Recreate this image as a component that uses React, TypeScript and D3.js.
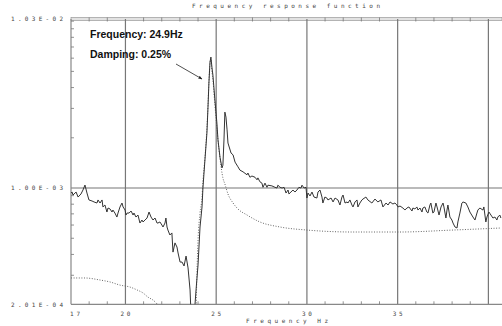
import React from "react";
import * as d3 from "d3";

const W = 502;
const H = 326;

// Measured FRF (solid, noisy)
const solidFreq = [
  17.00,17.06,17.11,17.28,17.39,17.55,17.66,17.77,17.88,17.99,
  18.16,18.27,18.43,18.49,18.60,18.71,18.76,18.87,18.98,19.04,
  19.15,19.26,19.31,19.42,19.53,19.59,19.70,19.81,19.87,19.98,
  20.03,20.09,20.20,20.31,20.42,20.47,20.58,20.69,20.80,20.91,
  20.97,21.08,21.19,21.30,21.41,21.52,21.63,21.74,21.79,21.90,
  22.01,22.07,22.18,22.23,22.29,22.34,22.45,22.56,22.62,22.73,
  22.84,22.90,23.01,23.12,23.23,23.34,23.45,23.56,23.64,23.75,
  23.89,24.00,24.11,24.22,24.27,24.38,24.49,24.55,24.60,24.66,
  24.71,24.77,24.82,24.93,25.04,25.10,25.21,25.32,25.37,25.43,
  25.48,25.54,25.60,25.65,25.82,25.93,26.04,26.20,26.31,26.48,
  26.70,26.75,26.86,26.97,27.14,27.25,27.30,27.41,27.52,27.58,
  27.69,27.80,27.85,28.07,28.24,28.35,28.40,28.52,28.63,28.74,
  28.85,28.96,29.01,29.12,29.23,29.34,29.45,29.56,29.67,29.73,
  29.84,29.95,30.00,30.06,30.17,30.28,30.39,30.55,30.61,30.72,
  30.83,30.88,30.99,31.10,31.16,31.33,31.44,31.55,31.71,31.82,
  31.93,31.99,32.10,32.21,32.26,32.37,32.48,32.54,32.65,32.76,
  32.81,32.92,33.03,33.09,33.25,33.36,33.58,33.75,33.91,34.08,
  34.19,34.36,34.47,34.58,34.74,34.85,34.96,35.02,35.13,35.29,
  35.40,35.51,35.62,35.79,35.84,35.95,36.06,36.12,36.23,36.34,
  36.39,36.50,36.61,36.67,36.78,36.83,36.94,37.00,37.11,37.17,
  37.28,37.39,37.50,37.55,37.61,37.66,37.72,37.77,37.88,37.99,
  38.05,38.16,38.27,38.32,38.43,38.54,38.60,38.76,38.87,38.98,
  39.15,39.26,39.37,39.42,39.53,39.70,39.75,39.86,39.92,40.03,
  40.14,40.25,40.36,40.47,40.52,40.63,40.69,
];
const solidAmp = [
  0.933e-3,0.946e-3,0.908e-3,0.946e-3,0.883e-3,0.921e-3,0.973e-3,1.042e-3,0.933e-3,0.848e-3,
  0.836e-3,0.825e-3,0.813e-3,0.848e-3,0.813e-3,0.848e-3,0.770e-3,0.791e-3,0.718e-3,0.759e-3,
  0.749e-3,0.718e-3,0.738e-3,0.708e-3,0.670e-3,0.708e-3,0.770e-3,0.813e-3,0.770e-3,0.738e-3,
  0.689e-3,0.708e-3,0.708e-3,0.728e-3,0.689e-3,0.708e-3,0.670e-3,0.689e-3,0.617e-3,0.643e-3,
  0.626e-3,0.643e-3,0.661e-3,0.718e-3,0.670e-3,0.643e-3,0.661e-3,0.617e-3,0.617e-3,0.626e-3,
  0.600e-3,0.584e-3,0.617e-3,0.661e-3,0.584e-3,0.560e-3,0.523e-3,0.538e-3,0.413e-3,0.469e-3,
  0.443e-3,0.408e-3,0.360e-3,0.360e-3,0.341e-3,0.391e-3,0.332e-3,0.245e-3,0.150e-3,0.150e-3,
  0.245e-3,0.346e-3,0.584e-3,0.770e-3,1.000e-3,1.47e-3,2.14e-3,3.06e-3,4.26e-3,5.69e-3,
  6.09e-3,5.24e-3,4.75e-3,3.37e-3,2.45e-3,1.94e-3,1.53e-3,1.32e-3,1.37e-3,1.94e-3,
  2.85e-3,2.66e-3,2.23e-3,1.86e-3,1.62e-3,1.58e-3,1.43e-3,1.34e-3,1.28e-3,1.25e-3,
  1.20e-3,1.23e-3,1.16e-3,1.18e-3,1.16e-3,1.12e-3,1.15e-3,1.09e-3,1.07e-3,1.01e-3,
  1.07e-3,1.01e-3,1.04e-3,1.03e-3,1.01e-3,1.00e-3,1.04e-3,1.01e-3,1.00e-3,1.01e-3,
  0.933e-3,0.973e-3,0.921e-3,0.946e-3,0.973e-3,0.946e-3,0.973e-3,1.01e-3,1.00e-3,1.04e-3,
  1.00e-3,1.01e-3,0.871e-3,0.933e-3,0.896e-3,0.946e-3,0.883e-3,0.871e-3,0.946e-3,0.973e-3,
  0.883e-3,0.813e-3,0.883e-3,0.871e-3,0.848e-3,0.871e-3,0.825e-3,0.871e-3,0.848e-3,0.791e-3,
  0.883e-3,0.908e-3,0.813e-3,0.825e-3,0.813e-3,0.848e-3,0.791e-3,0.770e-3,0.825e-3,0.848e-3,
  0.770e-3,0.813e-3,0.848e-3,0.859e-3,0.883e-3,0.848e-3,0.813e-3,0.859e-3,0.825e-3,0.848e-3,
  0.770e-3,0.813e-3,0.791e-3,0.825e-3,0.802e-3,0.813e-3,0.791e-3,0.770e-3,0.780e-3,0.759e-3,
  0.738e-3,0.759e-3,0.770e-3,0.728e-3,0.759e-3,0.749e-3,0.770e-3,0.738e-3,0.759e-3,0.718e-3,
  0.759e-3,0.770e-3,0.718e-3,0.708e-3,0.791e-3,0.813e-3,0.708e-3,0.718e-3,0.813e-3,0.770e-3,
  0.689e-3,0.770e-3,0.813e-3,0.770e-3,0.708e-3,0.661e-3,0.738e-3,0.791e-3,0.670e-3,0.643e-3,
  0.617e-3,0.584e-3,0.576e-3,0.626e-3,0.708e-3,0.813e-3,0.825e-3,0.813e-3,0.770e-3,0.718e-3,
  0.670e-3,0.643e-3,0.708e-3,0.738e-3,0.759e-3,0.738e-3,0.770e-3,0.626e-3,0.670e-3,0.718e-3,
  0.689e-3,0.661e-3,0.670e-3,0.643e-3,0.670e-3,0.689e-3,0.661e-3,
];

// Fitted FRF (dotted)
const fitFreq = [
  17.00,17.77,18.60,19.15,19.70,20.25,20.64,20.97,21.24,21.52,
  21.74,22.18,22.73,23.28,23.67,23.86,23.94,24.00,24.11,24.22,
  24.27,24.38,24.49,24.55,24.60,24.66,24.71,24.77,24.82,24.93,
  25.04,25.10,25.21,25.37,25.48,25.65,25.93,26.20,26.70,27.41,
  28.52,30.00,32.54,35.13,38.05,40.69,
];
const fitAmp = [
  0.289e-3,0.289e-3,0.281e-3,0.2735e-3,0.262e-3,0.255e-3,0.245e-3,0.235e-3,0.222e-3,0.213e-3,
  0.202e-3,0.162e-3,0.0932e-3,0.0537e-3,0.0178e-3,0.123e-3,0.310e-3,0.488e-3,0.708e-3,0.883e-3,
  1.09e-3,1.51e-3,2.29e-3,3.14e-3,4.32e-3,5.61e-3,5.85e-3,4.95e-3,4.44e-3,3.14e-3,
  2.29e-3,1.94e-3,1.51e-3,1.15e-3,1.057e-3,0.921e-3,0.813e-3,0.749e-3,0.689e-3,0.626e-3,
  0.584e-3,0.560e-3,0.545e-3,0.545e-3,0.560e-3,0.576e-3,
];

const xTickValues = [17, 20, 25, 30, 35];
const xTickLabels = ["17", "20", "25", "30", "35"];
const gridFreqs = [20, 25, 30, 35, 40];
const yTickValues = [1.03e-2, 1.0e-3, 2.01e-4];
const yTickLabels = ["1.03E-02", "1.00E-03", "2.01E-04"];
const titleText = "Frequency response function";
const xTitleText = "Frequency Hz";
const annotFreq = "Frequency: 24.9Hz";
const annotDamp = "Damping: 0.25%";

export default function App() {
  const L = 71, R = 502, T = 19, B = 304.3;
  const x = d3.scaleLinear().domain([17, 40.75]).range([L, R]);
  const y = d3.scaleLog().domain([2.01e-4, 1.03e-2]).range([B, T]);

  const solid: [number, number][] = solidFreq.map((f, i) => [f, solidAmp[i]]);
  const fit: [number, number][] = fitFreq.map((f, i) => [f, fitAmp[i]]);
  const line = d3.line<[number, number]>().x((d) => x(d[0])).y((d) => y(d[1]));
  const fitLine = d3
    .line<[number, number]>()
    .x((d) => x(d[0]))
    .y((d) => y(d[1]))
    .curve(d3.curveMonotoneX);

  const minorY = y
    .ticks()
    .filter((v) => v > 2.01e-4 && v < 1.03e-2 && Math.abs(v - 1e-3) > 1e-9);
  const hzTicks = d3.range(18, 41).filter((v) => v % 5 !== 0);

  const font = "'DejaVu Sans Mono', monospace";
  const tickColor = "#444";

  // arrow from annotation to peak
  const ax1 = 176, ay1 = 64;
  const ax2 = x(24.22), ay2 = y(4.5e-3);

  return (
    <>
      <style>{`body{margin:0}`}</style>
      <svg width={W} height={H} style={{ display: "block", background: "#fff" }}>
        <defs>
          <clipPath id="plotclip">
            <rect x={L} y={T} width={R - L} height={B - T} />
          </clipPath>
          <marker id="ah" viewBox="0 0 10 10" refX="9" refY="5" markerWidth="5" markerHeight="5" orient="auto">
            <path d="M0,1 L10,5 L0,9 z" fill="#222" />
          </marker>
        </defs>

        {/* title */}
        <text x={192} y={7.5} fontFamily={font} fontSize={6} fill={tickColor} textLength={188} lengthAdjust="spacing">
          {titleText}
        </text>

        {/* top border band */}
        <rect x={L} y={17.5} width={R - L} height={3} fill="#e2e2e2" stroke="#999" strokeWidth={0.7} />
        {hzTicks.map((v) => (
          <line key={"tt" + v} x1={x(v)} x2={x(v)} y1={17.5} y2={21.5} stroke="#777" strokeWidth={0.8} />
        ))}

        {/* vertical grid lines */}
        {gridFreqs.map((v) => (
          <line key={"g" + v} x1={x(v)} x2={x(v)} y1={T} y2={B} stroke="#777" strokeWidth={1.2} />
        ))}
        {/* horizontal grid at 1e-3 */}
        <line x1={L} x2={R} y1={y(1e-3)} y2={y(1e-3)} stroke="#777" strokeWidth={1.2} />

        {/* left axis */}
        <line x1={L} x2={L} y1={T} y2={B} stroke="#888" strokeWidth={1.2} />
        {minorY.map((v) => (
          <line key={"my" + v} x1={L} x2={L + 3} y1={y(v)} y2={y(v)} stroke="#777" strokeWidth={0.8} />
        ))}

        {/* bottom axis */}
        <line x1={L} x2={R} y1={B} y2={B} stroke="#888" strokeWidth={1.2} />
        {hzTicks.map((v) => (
          <line key={"bt" + v} x1={x(v)} x2={x(v)} y1={B} y2={B - 3} stroke="#777" strokeWidth={0.8} />
        ))}

        {/* y labels */}
        {yTickValues.map((v, i) => (
          <text key={"yl" + i} x={11} y={y(v) + 2.2} fontFamily={font} fontSize={6} fill={tickColor} textLength={52} lengthAdjust="spacing">
            {yTickLabels[i]}
          </text>
        ))}

        {/* x labels */}
        {xTickValues.map((v, i) => {
          const px = i === 0 ? x(v) + 4 : x(v);
          return (
            <text key={"xl" + i} x={px - 5} y={315.5} fontFamily={font} fontSize={6} fill={tickColor} textLength={10} lengthAdjust="spacing">
              {xTickLabels[i]}
            </text>
          );
        })}
        <text x={246} y={323} fontFamily={font} fontSize={6} fill={tickColor} textLength={82} lengthAdjust="spacing">
          {xTitleText}
        </text>

        {/* data */}
        <g clipPath="url(#plotclip)">
          <path d={fitLine(fit) || ""} fill="none" stroke="#666" strokeWidth={1} strokeDasharray="1 1.6" />
          <path d={line(solid) || ""} fill="none" stroke="#333" strokeWidth={1} />
        </g>

        {/* annotation */}
        <text x={90} y={37.5} fontFamily="'Liberation Sans', Arial, sans-serif" fontWeight="bold" fontSize={10.5} fill="#111">
          {annotFreq}
        </text>
        <text x={90} y={57.5} fontFamily="'Liberation Sans', Arial, sans-serif" fontWeight="bold" fontSize={10.5} fill="#111">
          {annotDamp}
        </text>
        <line x1={ax1} y1={ay1} x2={ax2} y2={ay2} stroke="#222" strokeWidth={0.8} markerEnd="url(#ah)" />
      </svg>
    </>
  );
}
